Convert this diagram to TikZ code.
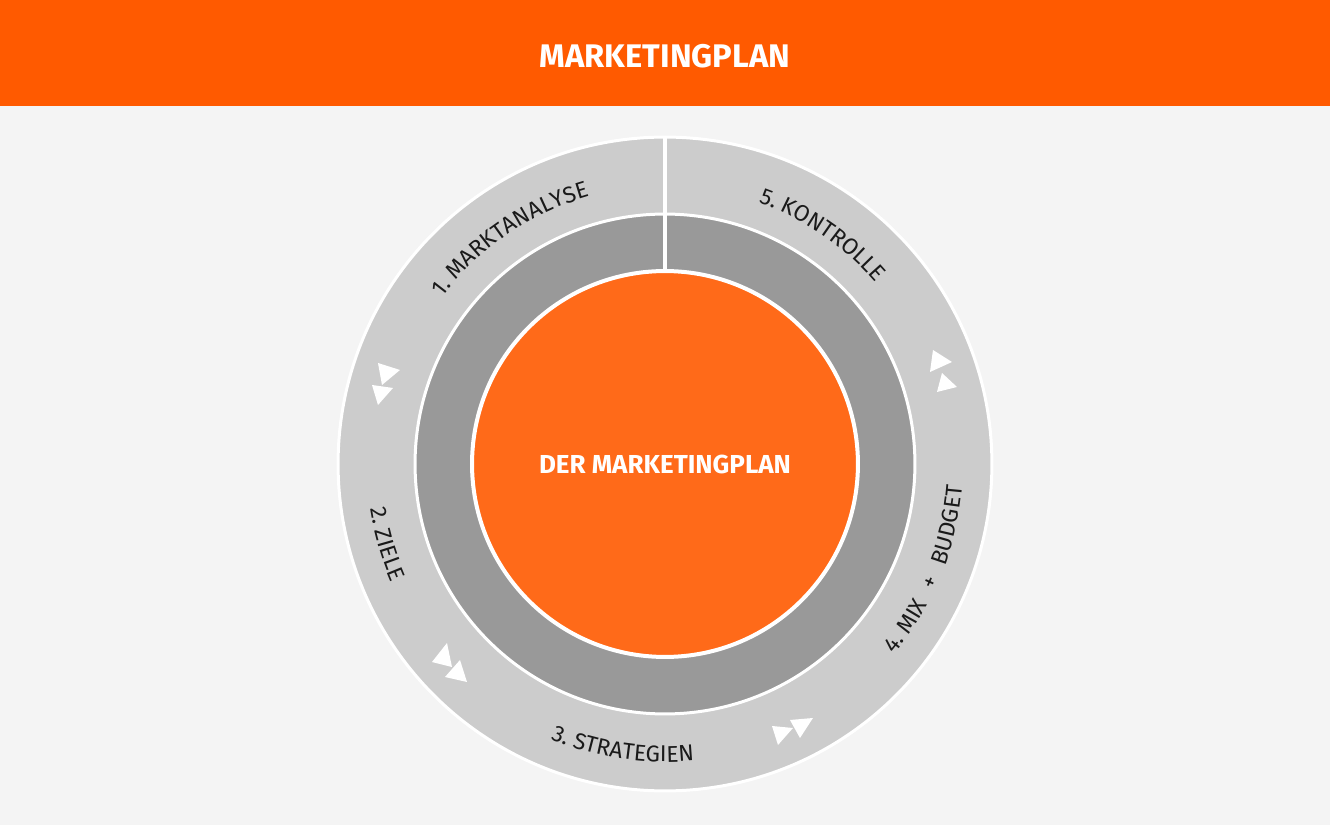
\documentclass[tikz,border=0pt]{standalone}
\usepackage{fontspec}
\setmainfont{Fira Sans}
\usepackage{tikz}
\usetikzlibrary{decorations.text}

\definecolor{headorange}{HTML}{FF5A00}
\definecolor{coreorange}{HTML}{FF6A19}
\definecolor{ringlight}{HTML}{CCCCCC}
\definecolor{ringdark}{HTML}{999999}
\definecolor{pagebg}{HTML}{F4F4F4}
\definecolor{labeltext}{HTML}{1A1A1A}

\begin{document}
\begin{tikzpicture}[
  x=0.02cm, y=0.02cm,
  ring/.style={circle, draw=white, line width=0.06cm, inner sep=0pt},
  core/.style={circle, draw=white, line width=0.08cm, fill=coreorange,
               inner sep=0pt, minimum size=7.72cm, text=white,
               font=\fontsize{14.8}{16}\selectfont\bfseries},
  title/.style={text=white, font=\fontsize{18.6}{20}\selectfont\bfseries},
  arclabel/.style={decorate, decoration={text along path, text align=center,
                   text={|\fontsize{13}{15}\selectfont\color{labeltext}|#1}}},
  ffwd/.style={fill=white},
]
  % page and header bar
  \fill[pagebg] (-665,-361) rectangle (665,464);
  \fill[headorange] (-665,358) rectangle (665,464);
  \node[title] (title) at (0,408) {MARKETINGPLAN};

  % the three circles
  \node[ring, fill=ringlight, minimum size=13.08cm] (outer) at (0,0) {};
  \node[ring, fill=ringdark, minimum size=10cm] (middle) at (0,0) {};
  \node[core] (core) at (0,0) {DER MARKETINGPLAN};
  \draw[white, line width=0.08cm] (outer.north) -- (core.north);

  % labels on the outer ring
  \path[arclabel={1. MARKTANALYSE}] (164.5:278) arc[start angle=164.5, end angle=84.5, radius=278];
  \path[arclabel={5. KONTROLLE}] (95.5:278) arc[start angle=95.5, end angle=15.5, radius=278];
  \path[arclabel={2. ZIELE}] (156:298) arc[start angle=156, end angle=236, radius=298];
  \path[arclabel={3. STRATEGIEN}] (221.5:298) arc[start angle=221.5, end angle=301.5, radius=298];
  \path[arclabel={4. MIX{\kern0.4em} + {\kern0.4em}BUDGET}] (298:298) arc[start angle=298, end angle=378, radius=298];

  % double triangles between the steps
  \foreach \a/\b/\c in {
    {(-287,101)}/{(-265,94)}/{(-283,79)}, {(-293,79)}/{(-272,76)}/{(-287,59)},
    {(-218,-179)}/{(-213,-203)}/{(-233,-198)}, {(-205,-196)}/{(-198,-218)}/{(-220,-213)},
    {(107,-262)}/{(128,-264)}/{(113,-281)}, {(125,-256)}/{(148,-254)}/{(135,-274)},
    {(268,114)}/{(287,102)}/{(265,92)}, {(277,91)}/{(292,77)}/{(272,72)}}
    \fill[ffwd] \a -- \b -- \c -- cycle;
\end{tikzpicture}
\end{document}
